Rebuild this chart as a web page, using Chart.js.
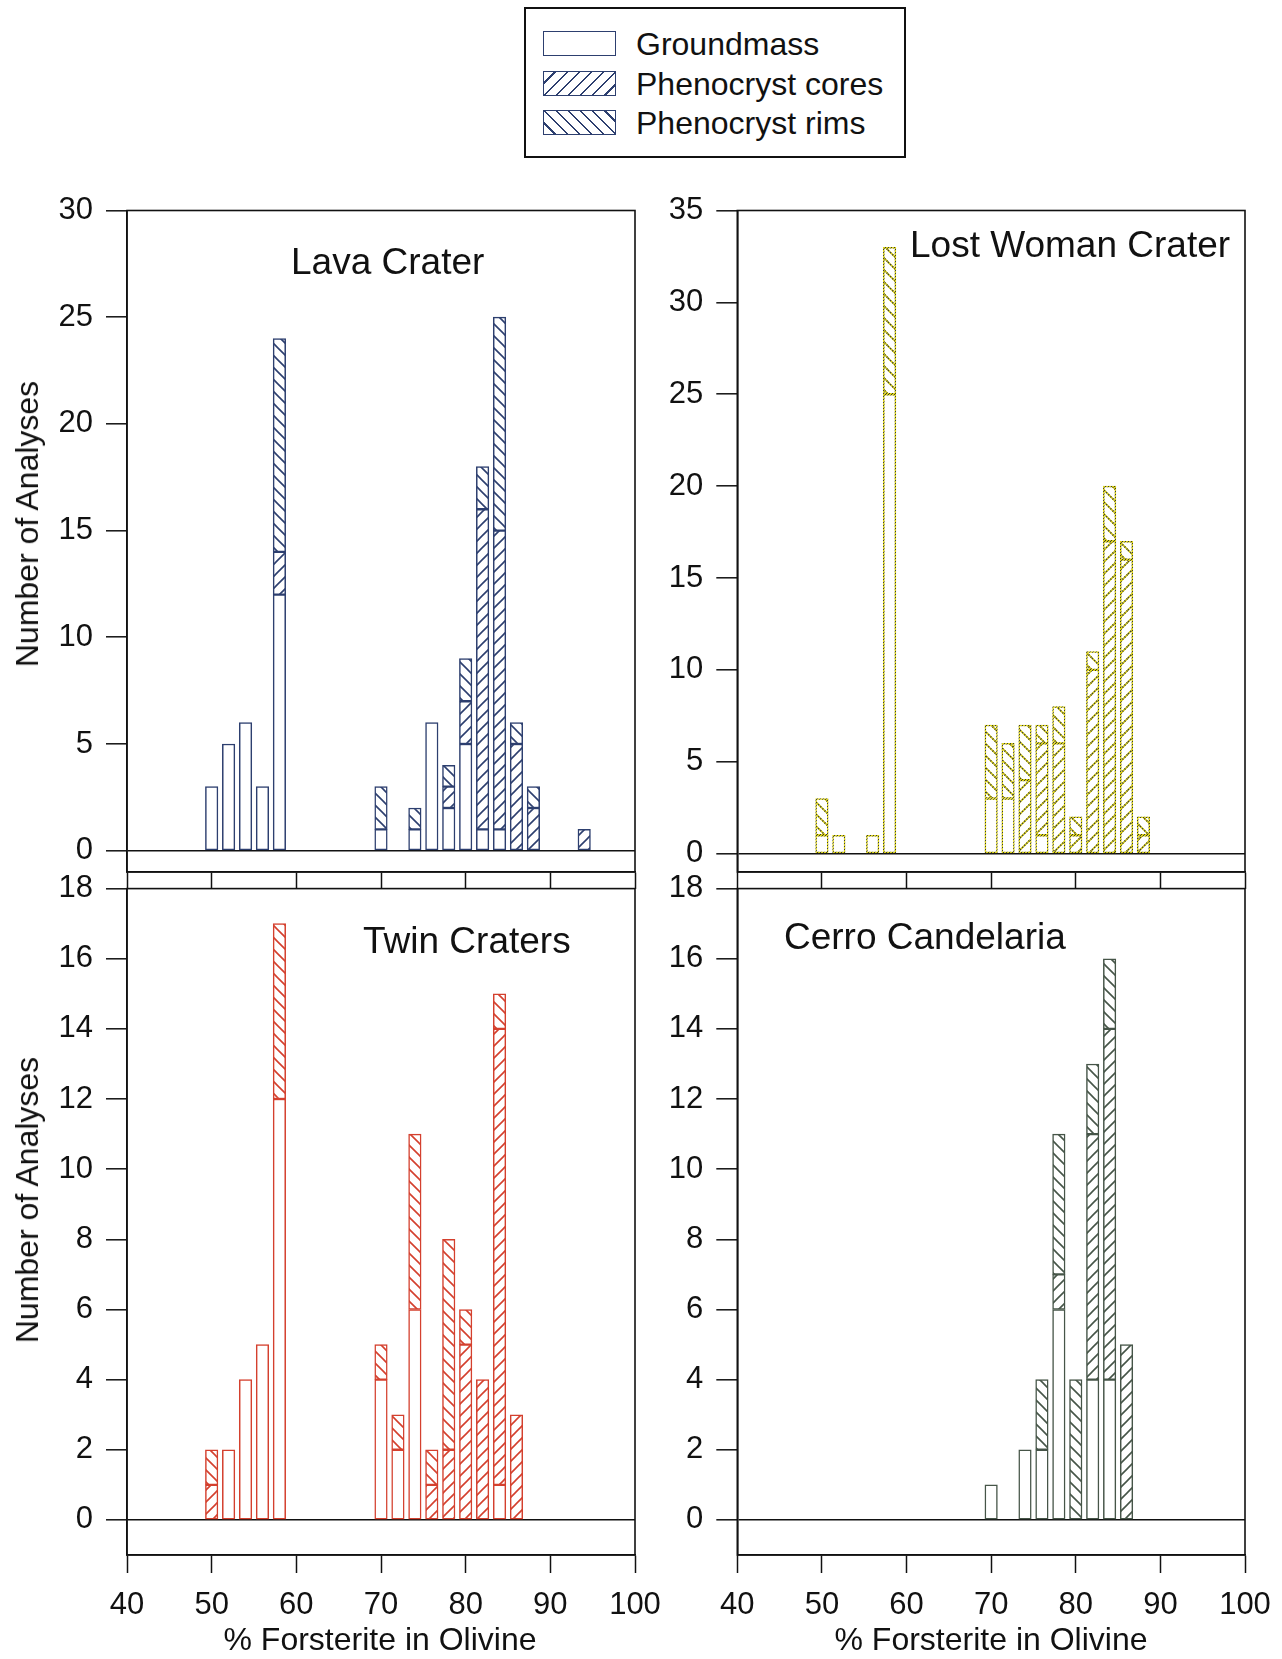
<!DOCTYPE html>
<html>
<head>
<meta charset="utf-8">
<script src="https://cdn.jsdelivr.net/npm/chart.js@4.4.1/dist/chart.umd.min.js"></script>
<style>
  body { margin: 0; background: #fff; font-family: "Liberation Sans", Arial, sans-serif; color: #111; }
  #page { position: relative; width: 1282px; height: 1659px; overflow: hidden; }
  .box { position: absolute; }
  .ttl { position: absolute; font-size: 37px; line-height: 1; white-space: nowrap; transform: translateY(-50%); }
  .ytl { position: absolute; font-size: 32px; line-height: 1; white-space: nowrap; transform: translate(-50%, -50%) rotate(-90deg); }
  .xtl { position: absolute; font-size: 32px; line-height: 1; white-space: nowrap; transform: translate(-50%, -50%); }
  #legend { position: absolute; left: 524px; top: 7px; width: 378px; height: 147px; border: 2px solid #111; }
  .sw { position: absolute; left: 17px; width: 71px; height: 23px; border: 1.5px solid #2d3f6f; background: #fff; }
  .lt { position: absolute; left: 110px; font-size: 32px; line-height: 1; transform: translateY(-50%); white-space: nowrap; }
</style>
</head>
<body>
<div id="page">
  <div id="legend">
    <div class="sw" style="top:22px"></div>
    <div class="lt" style="top:35px">Groundmass</div>
    <div class="sw" style="top:62px;background:repeating-linear-gradient(135deg,#fff 0 7px,#2d3f6f 7px 8.6px)"></div>
    <div class="lt" style="top:75px">Phenocryst cores</div>
    <div class="sw" style="top:101px;background:repeating-linear-gradient(45deg,#fff 0 7px,#2d3f6f 7px 8.6px)"></div>
    <div class="lt" style="top:114px">Phenocryst rims</div>
  </div>

  <canvas id="lava" class="box" style="left:0;top:178px" width="700" height="726"></canvas>
  <canvas id="lost" class="box" style="left:660px;top:178px" width="662" height="726"></canvas>
  <canvas id="twin" class="box" style="left:0;top:856px" width="700" height="803"></canvas>
  <canvas id="cerro" class="box" style="left:660px;top:856px" width="662" height="803"></canvas>

  <div class="ttl" style="left:291px;top:261px">Lava Crater</div>
  <div class="ttl" style="left:910px;top:244px">Lost Woman Crater</div>
  <div class="ttl" style="left:363px;top:940px">Twin Craters</div>
  <div class="ttl" style="left:784px;top:936px">Cerro Candelaria</div>

  <div class="ytl" style="left:27px;top:524px">Number of Analyses</div>
  <div class="ytl" style="left:27px;top:1200px">Number of Analyses</div>
  <div class="xtl" style="left:380px;top:1639px">% Forsterite in Olivine</div>
  <div class="xtl" style="left:991px;top:1639px">% Forsterite in Olivine</div>
</div>

<script>
// bins are % Fo (bar centres), counts per component
const lavaBins   = [50, 52, 54, 56, 58, 70, 74, 76, 78, 80, 82, 84, 86, 88, 94];
const lavaGround = [ 3,  5,  6,  3, 12,  1,  1,  6,  2,  5,  1,  1,  0,  0,  0];
const lavaCores  = [ 0,  0,  0,  0,  2,  0,  0,  0,  1,  2, 15, 14,  5,  2,  1];
const lavaRims   = [ 0,  0,  0,  0, 10,  2,  1,  0,  1,  2,  2, 10,  1,  1,  0];

const lostBins   = [50, 52, 56, 58, 70, 72, 74, 76, 78, 80, 82, 84, 86, 88];
const lostGround = [ 1,  1,  1, 25,  3,  3,  0,  1,  0,  0,  0,  0,  0,  0];
const lostCores  = [ 0,  0,  0,  0,  0,  0,  4,  5,  6,  1, 10, 17, 16,  1];
const lostRims   = [ 2,  0,  0,  8,  4,  3,  3,  1,  2,  1,  1,  3,  1,  1];

const twinBins   = [50, 52, 54, 56, 58, 70, 72, 74, 76, 78, 80, 82, 84, 86];
const twinGround = [ 0,  2,  4,  5, 12,  4,  2,  6,  0,  0,  0,  0,  1,  0];
const twinCores  = [ 1,  0,  0,  0,  0,  0,  0,  0,  1,  2,  5,  4, 13,  3];
const twinRims   = [ 1,  0,  0,  0,  5,  1,  1,  5,  1,  6,  1,  0,  1,  0];

const cerroBins   = [70, 74, 76, 78, 80, 82, 84, 86];
const cerroGround = [ 1,  2,  2,  6,  0,  4,  4,  0];
const cerroCores  = [ 0,  0,  0,  1,  0,  7, 10,  5];
const cerroRims   = [ 0,  0,  2,  4,  4,  2,  2,  0];

const xTicks      = [40, 50, 60, 70, 80, 90, 100];
const lavaYTicks  = [0, 5, 10, 15, 20, 25, 30];
const lostYTicks  = [0, 5, 10, 15, 20, 25, 30, 35];
const lowerYTicks = [0, 2, 4, 6, 8, 10, 12, 14, 16, 18];

const FONT = '"Liberation Sans", Arial, sans-serif';

// diagonal hatch, dir '/' for cores, '\' for rims
function hatch(color, dir, dotted) {
  const s = 12;
  const cv = document.createElement('canvas');
  cv.width = s; cv.height = s;
  const g = cv.getContext('2d');
  g.fillStyle = '#fff';
  g.fillRect(0, 0, s, s);
  g.lineWidth = 1.6;
  g.strokeStyle = color;
  g.beginPath();
  if (dir === '/') {
    g.moveTo(-2, s + 2); g.lineTo(s + 2, -2);
    g.moveTo(-2, 2); g.lineTo(2, -2);
    g.moveTo(s - 2, s + 2); g.lineTo(s + 2, s - 2);
  } else {
    g.moveTo(-2, -2); g.lineTo(s + 2, s + 2);
    g.moveTo(s - 2, -2); g.lineTo(s + 2, 2);
    g.moveTo(-2, s - 2); g.lineTo(2, s + 2);
  }
  g.stroke();
  if (dotted) {
    g.strokeStyle = '#333';
    g.setLineDash([1, 2]);
    g.stroke();
  }
  return g.createPattern(cv, 'repeat');
}

// yellow outline with dark specks (Lost Woman bars)
function speckle() {
  const cv = document.createElement('canvas');
  cv.width = 3; cv.height = 3;
  const g = cv.getContext('2d');
  g.fillStyle = '#ddd412';
  g.fillRect(0, 0, 3, 3);
  g.fillStyle = '#3a3a30';
  g.fillRect(0, 0, 1, 1);
  g.fillRect(2, 1, 1, 1);
  g.fillRect(1, 2, 1, 1);
  return g.createPattern(cv, 'repeat');
}

const framePlugin = {
  id: 'frame',
  afterDraw(chart) {
    const a = chart.chartArea, c = chart.ctx;
    c.save();
    c.strokeStyle = '#111';
    c.lineWidth = 1.6;
    c.strokeRect(a.left, a.top, a.right - a.left, a.bottom - a.top);
    c.restore();
  }
};

function pts(bins, vals) {
  return bins.map((b, i) => ({ x: b, y: vals[i] ? vals[i] : null }));
}

function makeChart(id, bins, ground, cores, rims, opt) {
  const base = { borderColor: opt.border, borderWidth: 1.5, borderSkipped: false, barThickness: 12.5, grouped: false };
  new Chart(document.getElementById(id), {
    type: 'bar',
    data: {
      datasets: [
        Object.assign({ label: 'Groundmass', data: pts(bins, ground), backgroundColor: '#fff' }, base),
        Object.assign({ label: 'Phenocryst cores', data: pts(bins, cores), backgroundColor: hatch(opt.line, '/', opt.dotted) }, base),
        Object.assign({ label: 'Phenocryst rims', data: pts(bins, rims), backgroundColor: hatch(opt.line, '\\', opt.dotted) }, base)
      ]
    },
    options: {
      responsive: false,
      animation: false,
      layout: { padding: { top: opt.padTop, right: opt.padRight, bottom: opt.padBottom, left: 0 } },
      plugins: { legend: { display: false }, tooltip: { enabled: false } },
      scales: {
        x: {
          type: 'linear', min: 40, max: 100, stacked: true, offset: false,
          afterBuildTicks: s => { s.ticks = xTicks.map(v => ({ value: v })); },
          afterFit: s => { s.height = opt.xHeight; },
          grid: { offset: false, drawOnChartArea: false, drawTicks: true, tickLength: opt.xTickLen, tickColor: '#111', tickWidth: 1.5 },
          border: { display: true, color: '#111', width: 1.6 },
          ticks: { display: opt.xLabels, padding: 14, color: '#111', font: { family: FONT, size: 31 }, maxRotation: 0 }
        },
        y: {
          type: 'linear', min: -1, max: opt.yMax, stacked: true,
          afterBuildTicks: s => { s.ticks = opt.yTicks.map(v => ({ value: v })); },
          afterFit: s => { s.width = opt.yWidth; },
          grid: {
            drawOnChartArea: true, drawTicks: true, tickLength: 21, tickColor: '#111', tickWidth: 1.5,
            lineWidth: 1.6,
            color: c => (c.tick && c.tick.value === 0 ? '#111' : 'rgba(0,0,0,0)')
          },
          border: { display: true, color: '#111', width: 1.6 },
          ticks: { padding: 13, color: '#111', font: { family: FONT, size: 31 } }
        }
      }
    },
    plugins: [framePlugin]
  });
}

makeChart('lava', lavaBins, lavaGround, lavaCores, lavaRims, {
  border: '#2d3f6f', line: '#2d3f6f', yMax: 30, yTicks: lavaYTicks,
  padTop: 32.5, padRight: 65, padBottom: 14, yWidth: 127, xHeight: 18, xTickLen: 17, xLabels: false
});
makeChart('lost', lostBins, lostGround, lostCores, lostRims, {
  border: speckle(), line: '#d0c814', dotted: true, yMax: 35, yTicks: lostYTicks,
  padTop: 32.5, padRight: 77, padBottom: 14, yWidth: 77.3, xHeight: 18, xTickLen: 17, xLabels: false
});
makeChart('twin', twinBins, twinGround, twinCores, twinRims, {
  border: '#d4402e', line: '#d4402e', yMax: 18, yTicks: lowerYTicks,
  padTop: 32.6, padRight: 65, padBottom: 0, yWidth: 127, xHeight: 104, xTickLen: 18, xLabels: true
});
makeChart('cerro', cerroBins, cerroGround, cerroCores, cerroRims, {
  border: '#465548', line: '#465548', yMax: 18, yTicks: lowerYTicks,
  padTop: 32.6, padRight: 77, padBottom: 0, yWidth: 77.3, xHeight: 104, xTickLen: 18, xLabels: true
});
</script>
</body>
</html>
